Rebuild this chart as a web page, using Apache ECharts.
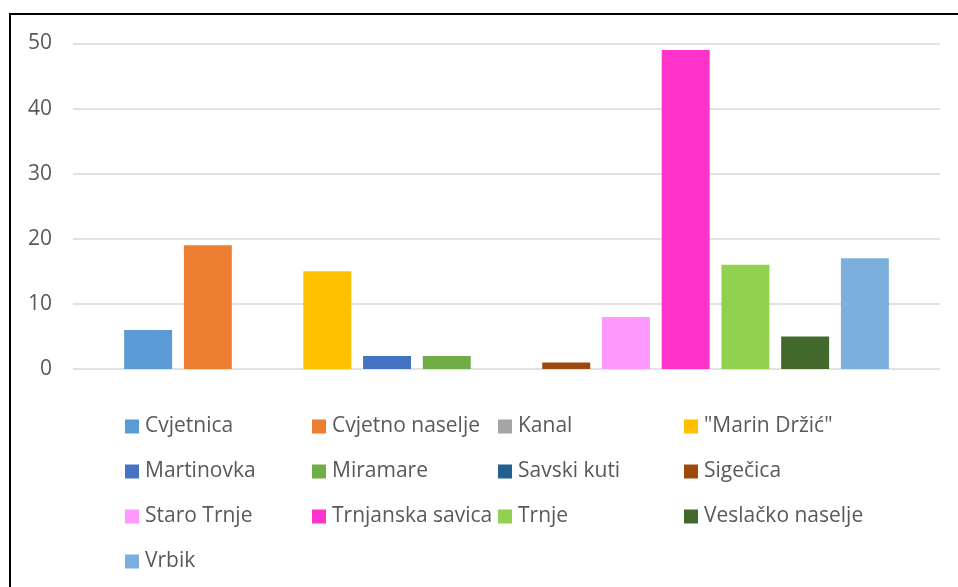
<!DOCTYPE html>
<html><head><meta charset="utf-8">
<script src="https://cdn.jsdelivr.net/npm/echarts@6/dist/echarts.min.js"></script>
<style>html,body{margin:0;padding:0;background:#fff}#c{width:958px;height:587px}</style>
</head><body><div id="c"></div>
<script>
const names = ['Cvjetnica','Cvjetno naselje','Kanal','"Marin Držić"','Martinovka','Miramare','Savski kuti','Sigečica','Staro Trnje','Trnjanska savica','Trnje','Veslačko naselje','Vrbik'];
const values = [6,19,0,15,2,2,0,1,8,49,16,5,17];
const colors = ['#5B9BD5','#ED7D31','#A5A5A5','#FFC000','#4472C4','#70AD47','#255E91','#9E480E','#FF99FF','#FF33CC','#92D050','#43682B','#7CAFDD'];
const yTicks = [0,10,20,30,40,50];

const FONT = '"Open Sans", "Noto Sans", sans-serif';
const series = names.map((n,i)=>({
  name:n, type:'bar', data:[values[i]],
  itemStyle:{color:colors[i]},
  barGap:'24.6%', barCategoryGap:'11.8%'
}));
const colLeft = [125,312,498,684];
const legends = colLeft.map((x,c)=>({
  orient:'vertical', left:x, top:415,
  data: names.filter((_,i)=>i%4===c),
  itemWidth:14, itemHeight:14, itemGap:22,
  icon:'rect',
  textStyle:{fontFamily:FONT, fontSize:21, color:'#595959', lineHeight:21, padding:[2,0,0,1]},
  selectedMode:false, padding:0
}));
const chart = echarts.init(document.getElementById('c'));
chart.setOption({
  animation:false,
  grid:{left:73,right:18,top:43.5,bottom:218},
  legend:legends,
  xAxis:{type:'category',data:[''],axisLine:{show:false},axisTick:{show:false},axisLabel:{show:false}},
  yAxis:{type:'value',min:yTicks[0],max:yTicks[yTicks.length-1],interval:10,
    axisLabel:{fontFamily:FONT,fontSize:21,color:'#595959',margin:21,padding:[8,0,0,0]},
    splitLine:{lineStyle:{color:'#d9d9d9',width:1.5}},
    axisLine:{show:false},axisTick:{show:false}},
  series:series,
  graphic:[{type:'rect',shape:{x:10,y:14,width:1000,height:1000},style:{fill:'none',stroke:'#000',lineWidth:2}}]
});
</script></body></html>
